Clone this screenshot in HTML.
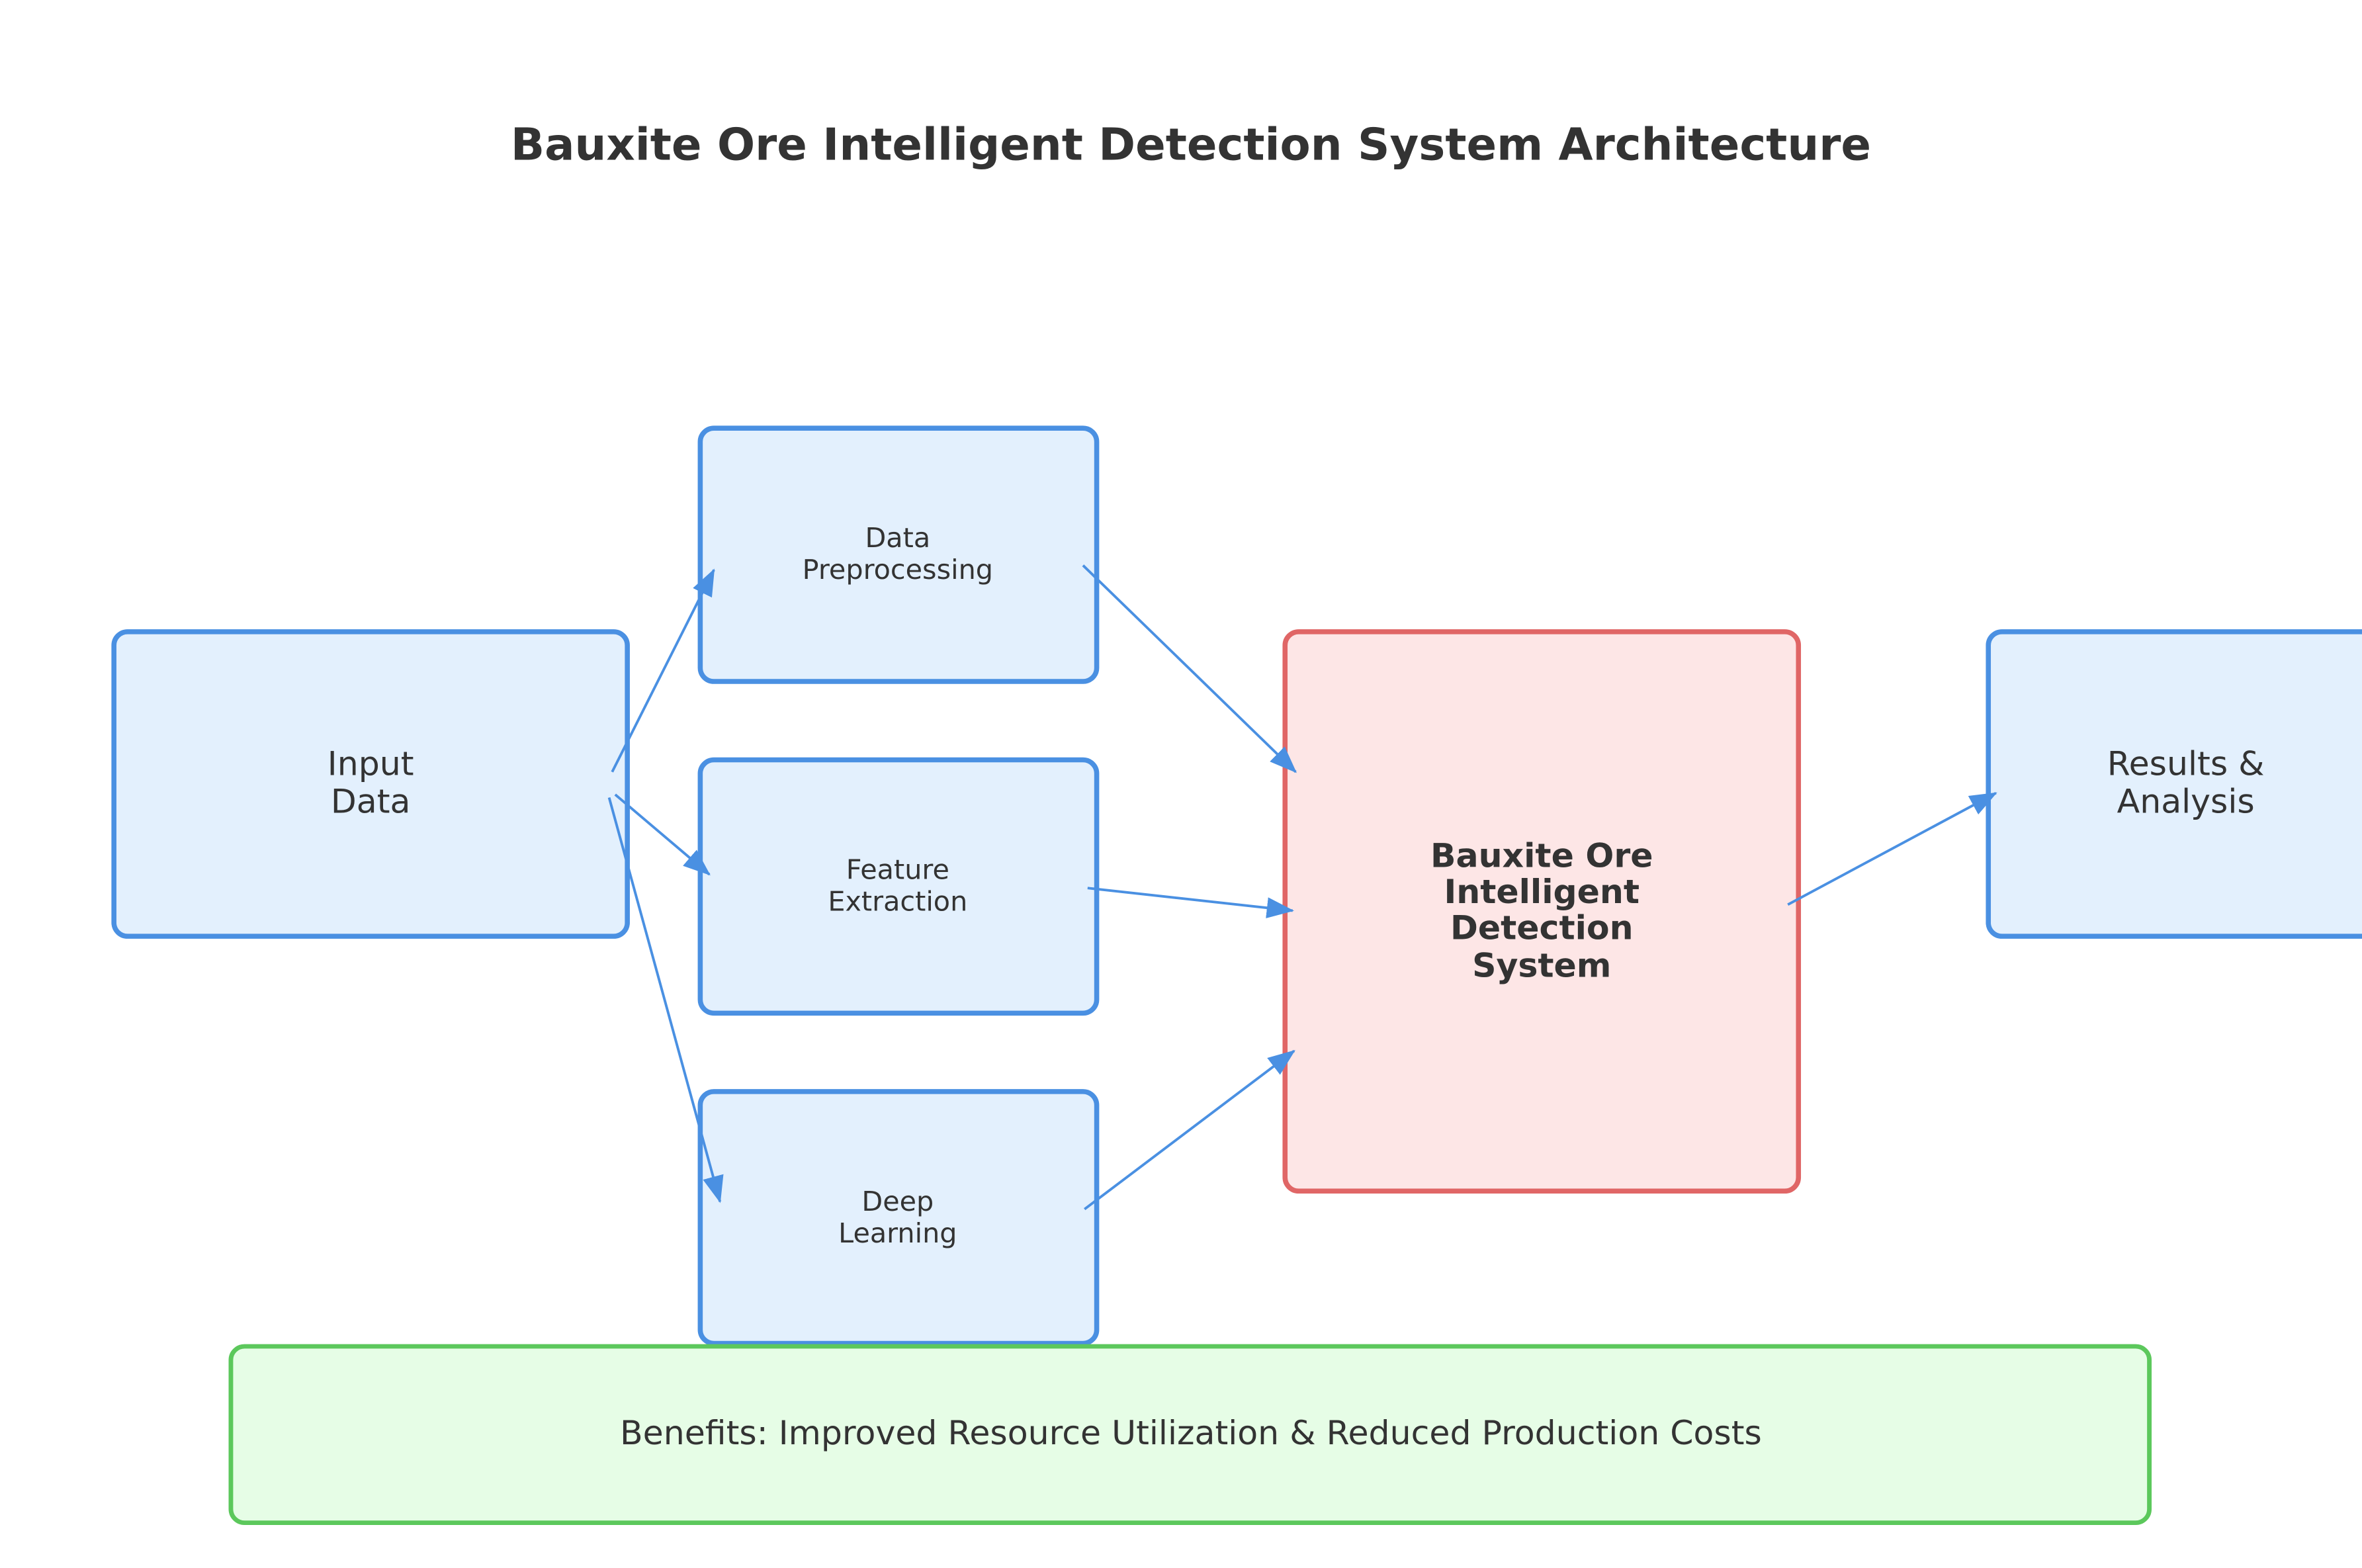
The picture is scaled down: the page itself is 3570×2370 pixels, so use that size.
<!DOCTYPE html>
<html><head><meta charset="utf-8"><style>
html,body{margin:0;padding:0;background:#fff;}
svg{display:block;}
text{font-family:"DejaVu Sans","Liberation Sans",sans-serif;fill:#333;text-anchor:middle;}
</style></head><body>
<svg width="3570" height="2370" viewBox="0 0 1555 1040" preserveAspectRatio="none" xmlns="http://www.w3.org/2000/svg">
<defs>
<marker id="a" markerWidth="18" markerHeight="14" refX="17" refY="7" orient="auto" markerUnits="userSpaceOnUse">
<path d="M0,0 L18,7 L0,14 Z" fill="#4a90e2"/>
</marker>
</defs>
<rect width="1555" height="1040" fill="#fff"/>
<text x="784" y="106" font-size="29.3" font-weight="bold">Bauxite Ore Intelligent Detection System Architecture</text>

<rect x="75" y="419" width="338" height="202" rx="9" fill="#e3f0fd" stroke="#4a90e2" stroke-width="3.3"/>
<text x="244" y="514" font-size="22">Input</text>
<text x="244" y="539" font-size="22">Data</text>

<rect x="461" y="284" width="261" height="168" rx="9" fill="#e3f0fd" stroke="#4a90e2" stroke-width="3.3"/>
<text x="591" y="363" font-size="18">Data</text>
<text x="591" y="384" font-size="18">Preprocessing</text>

<rect x="461" y="504" width="261" height="168" rx="9" fill="#e3f0fd" stroke="#4a90e2" stroke-width="3.3"/>
<text x="591" y="583" font-size="18">Feature</text>
<text x="591" y="604" font-size="18">Extraction</text>

<rect x="461" y="724" width="261" height="167" rx="9" fill="#e3f0fd" stroke="#4a90e2" stroke-width="3.3"/>
<text x="591" y="803" font-size="18">Deep</text>
<text x="591" y="824" font-size="18">Learning</text>

<rect x="846" y="419" width="338" height="371" rx="9" fill="#fde6e6" stroke="#e06666" stroke-width="3.3"/>
<text x="1015" y="575" font-size="22" font-weight="bold">Bauxite Ore</text>
<text x="1015" y="599" font-size="22" font-weight="bold">Intelligent</text>
<text x="1015" y="623" font-size="22" font-weight="bold">Detection</text>
<text x="1015" y="648" font-size="22" font-weight="bold">System</text>

<rect x="1309" y="419" width="280" height="202" rx="9" fill="#e3f0fd" stroke="#4a90e2" stroke-width="3.3"/>
<text x="1439" y="514" font-size="22">Results &amp;</text>
<text x="1439" y="539" font-size="22">Analysis</text>

<rect x="152" y="893" width="1263" height="117" rx="9" fill="#e6fde6" stroke="#5cc85c" stroke-width="3"/>
<text x="784" y="958" font-size="22">Benefits: Improved Resource Utilization &amp; Reduced Production Costs</text>

<g stroke="#4a90e2" stroke-width="1.7" fill="none" marker-end="url(#a)">
<line x1="403" y1="512" x2="470" y2="378"/>
<line x1="405" y1="527" x2="467" y2="580"/>
<line x1="401" y1="529" x2="474" y2="797"/>
<line x1="713" y1="375" x2="853" y2="512"/>
<line x1="716" y1="589" x2="851" y2="604"/>
<line x1="714" y1="802" x2="852" y2="697"/>
<line x1="1177" y1="600" x2="1314" y2="526"/>
</g>
</svg>
</body></html>
